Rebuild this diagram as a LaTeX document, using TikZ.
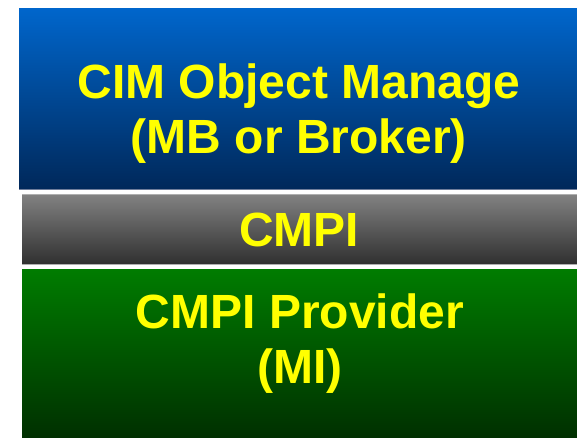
\documentclass[tikz,border=0pt]{standalone}
\usepackage{fontspec}
\setmainfont{Liberation Sans}
\definecolor{blueTop}{RGB}{0,102,204}
\definecolor{blueBot}{RGB}{0,40,90}
\definecolor{grayTop}{RGB}{130,130,130}
\definecolor{grayBot}{RGB}{48,48,48}
\definecolor{greenTop}{RGB}{0,124,0}
\definecolor{greenBot}{RGB}{0,48,0}
\definecolor{labelYellow}{RGB}{255,255,0}
\tikzset{
  layerlabel/.style={text=labelYellow, font=\bfseries\fontsize{48}{55}\selectfont, align=center, inner sep=0pt}
}
\begin{document}
\begin{tikzpicture}[x=1pt,y=-1pt]
\useasboundingbox[fill=white] (0,0) rectangle (577,437);
% object manager layer
\shade[top color=blueTop, bottom color=blueBot] (19,8) rectangle (577,189);
\draw[color={rgb,255:red,110;green,125;blue,155}, line width=1pt] (19,189.5) -- (577,189.5);
% interface layer
\shade[top color=grayTop, bottom color=grayBot] (22,194) rectangle (577,264);
\draw[color={rgb,255:red,175;green,175;blue,175}, line width=1pt] (22,194.5) -- (577,194.5);
\draw[color={rgb,255:red,175;green,175;blue,175}, line width=1pt] (22,264.5) -- (577,264.5);
% provider layer
\shade[top color=greenTop, bottom color=greenBot] (22,269) rectangle (577,437);
\node[layerlabel] (cimom) at (299,113.5) {CIM Object Manage\\(MB or Broker)};
\node[layerlabel] (cmpi) at (299,230) {CMPI};
\node[layerlabel] (prov) at (300,343.5) {CMPI Provider\\(MI)};
\end{tikzpicture}
\end{document}
